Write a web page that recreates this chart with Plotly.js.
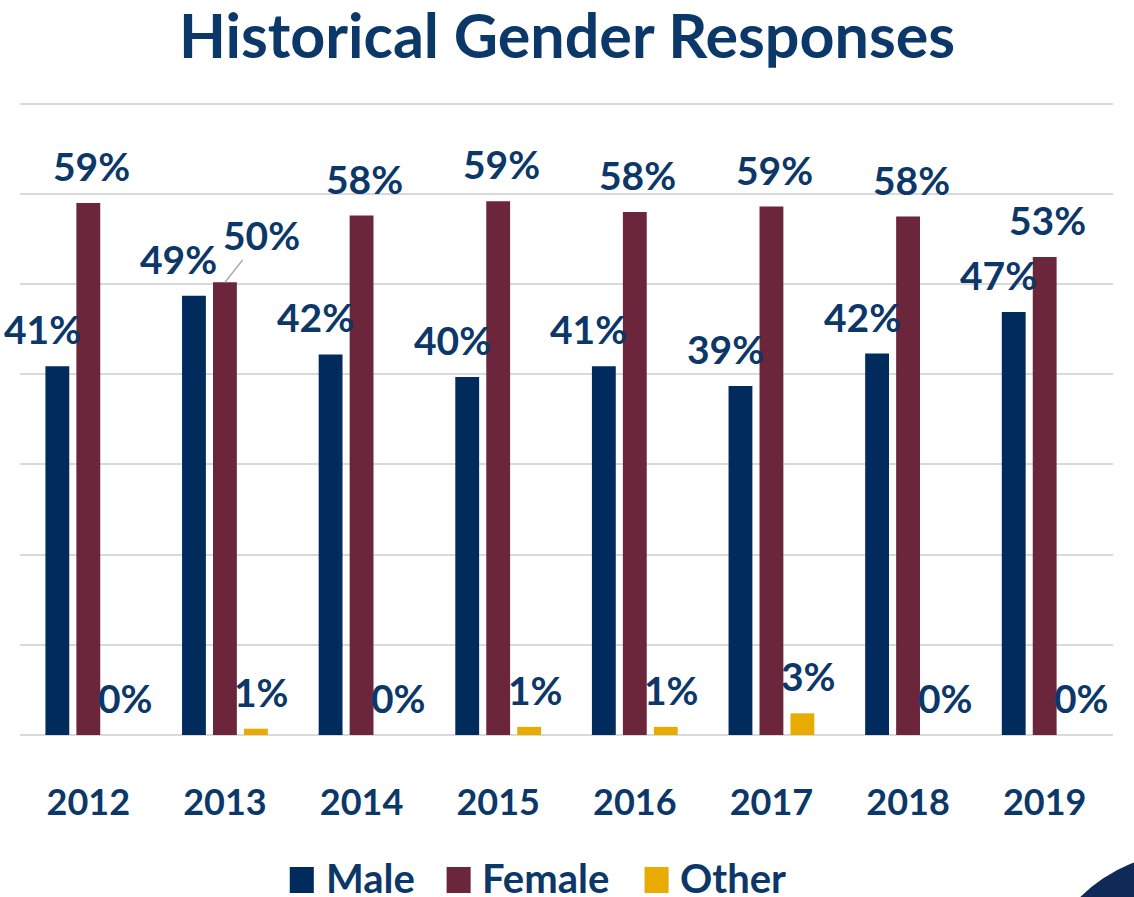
<!DOCTYPE html>
<html>
<head>
<meta charset="utf-8">
<script src="https://cdn.plot.ly/plotly-3.0.1.min.js"></script>
<style>html,body{margin:0;padding:0;background:#fff;}#chart{width:1134px;height:897px;}</style>
</head>
<body>
<div id="chart"></div>
<script>
const years = ["2012","2013","2014","2015","2016","2017","2018","2019"];
const maleValues = [40.9, 48.7, 42.2, 39.7, 40.9, 38.7, 42.3, 46.9];
const femaleValues = [59.0, 50.2, 57.6, 59.2, 58.0, 58.6, 57.5, 53.0];
const otherValues = [0, 0.7, 0, 0.9, 0.9, 2.4, 0, 0];
const maleLabels = ["41%","49%","42%","40%","41%","39%","42%","47%"];
const femaleLabels = ["59%","50%","58%","59%","58%","59%","58%","53%"];
const otherLabels = ["0%","1%","0%","1%","1%","3%","0%","0%"];
const seriesNames = ["Male","Female","Other"];
const colors = ["#002b5c","#6b263b","#e8ab00"];
const textColor = "#0b3868";
const FONT = "Lato, 'Open Sans', sans-serif";

const series = [maleValues, femaleValues, otherValues];
const labels = [maleLabels, femaleLabels, otherLabels];

const traces = series.map((vals, k) => ({
  type: "bar",
  name: seriesNames[k],
  x: years,
  y: vals,
  marker: {color: colors[k]},
  hoverinfo: "x+y+name",
  showlegend: false
}));

// label offsets per series (px relative to category centre)
const xShift = [-46, 3, 37];
const annotations = [];
labels.forEach((labs, k) => {
  labs.forEach((t, i) => {
    const catIndex = years.indexOf(years[i]);
    if (k === 1 && i === 1) {
      annotations.push({
        x: catIndex, y: series[k][i], xref: "x", yref: "y",
        text: "<b>" + t + "</b>", showarrow: true, arrowhead: 0, arrowwidth: 1.5, arrowcolor: "#a6a6a6",
        ax: 37, ay: -47, standoff: 0,
        font: {family: FONT, size: 39, color: textColor}
      });
    } else {
      annotations.push({
        x: catIndex, y: series[k][i], xref: "x", yref: "y",
        text: "<b>" + t + "</b>", showarrow: false, xanchor: "center", yanchor: "middle",
        xshift: xShift[k], yshift: 37,
        font: {family: FONT, size: 39, color: textColor}
      });
    }
  });
});

// manual legend
const legX = [0.2468, 0.3903, 0.5714];
const shapes = [];
seriesNames.forEach((n, k) => {
  shapes.push({type: "rect", xref: "paper", yref: "paper",
    x0: legX[k], x1: legX[k] + 0.022, y0: -0.2496, y1: -0.2085,
    fillcolor: colors[k], line: {width: 0}});
  annotations.push({xref: "paper", yref: "paper", x: legX[k] + 0.031, y: -0.2259,
    xanchor: "left", yanchor: "middle", showarrow: false, text: "<b>" + n + "</b>",
    font: {family: FONT, size: 40, color: textColor}});
});
// decorative corner circle
shapes.push({type: "circle", xref: "paper", yref: "paper",
  x0: 0.9268, x1: 1.216, y0: -0.6826, y1: -0.1845,
  fillcolor: "#102a58", line: {width: 0}, layer: "above"});

const layout = {
  width: 1134, height: 897,
  margin: {l: 20, r: 21, t: 102, b: 162},
  paper_bgcolor: "#ffffff", plot_bgcolor: "#ffffff",
  title: {text: "<b>Historical Gender Responses</b>", x: 0.5, xref: "container", y: 0.9588, yref: "container",
    xanchor: "center", yanchor: "middle",
    font: {family: FONT, size: 61, color: textColor}},
  barmode: "group", bargap: 0.32, bargroupgap: 0.23,
  xaxis: {type: "category", range: [-0.5, 7.5], autorange: false, showline: false, ticks: "", ticklabelstandoff: 43,
    tickfont: {family: FONT, size: 36, color: textColor, weight: 700}},
  yaxis: {range: [0, 70.2], autorange: false, dtick: 10, showticklabels: false, showgrid: true,
    gridcolor: "#d9d9d9", gridwidth: 2, zeroline: true, zerolinecolor: "#d9d9d9", zerolinewidth: 2},
  showlegend: false,
  annotations: annotations,
  shapes: shapes
};

Plotly.newPlot("chart", traces, layout, {displayModeBar: false, staticPlot: true});
</script>
</body>
</html>
